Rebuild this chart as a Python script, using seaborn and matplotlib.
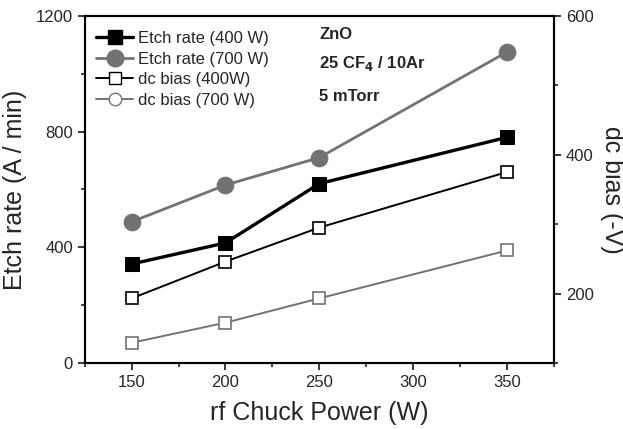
import seaborn as sns
import matplotlib.pyplot as plt
from matplotlib.lines import Line2D
from matplotlib.ticker import MultipleLocator

power = [150, 200, 250, 350]
etch_400 = [342, 415, 620, 780]
etch_700 = [488, 615, 710, 1075]
bias_400 = [193, 246, 295, 375]
bias_700 = [129, 158, 193, 262]

sns.set_style("ticks")
plt.rcParams['font.family'] = ['Liberation Sans', 'DejaVu Sans']

gray = '#727272'

fig = plt.figure(figsize=(6.23, 4.29), dpi=100)
ax = fig.add_axes([0.136, 0.154, 0.753, 0.809])
ax2 = ax.twinx()

sns.lineplot(x=power, y=etch_400, ax=ax, color='black', lw=2.4,
             marker='s', markersize=10, markeredgecolor='black')
sns.lineplot(x=power, y=etch_700, ax=ax, color=gray, lw=2.0,
             marker='o', markersize=12, markeredgecolor=gray)
sns.lineplot(x=power, y=bias_400, ax=ax2, color='black', lw=1.4,
             marker='s', markersize=8, markerfacecolor='white',
             markeredgecolor='black', markeredgewidth=1.2)
sns.lineplot(x=power, y=bias_700, ax=ax2, color=gray, lw=1.4,
             marker='s', markersize=8, markerfacecolor='white',
             markeredgecolor=gray, markeredgewidth=1.2)

ax.set_xlim(125, 375)
ax.set_ylim(0, 1200)
ax2.set_ylim(100, 600)
ax.xaxis.set_major_locator(MultipleLocator(50))
ax.xaxis.set_minor_locator(MultipleLocator(25))
ax.yaxis.set_major_locator(MultipleLocator(400))
ax.yaxis.set_minor_locator(MultipleLocator(200))
ax2.yaxis.set_major_locator(MultipleLocator(200))
ax2.yaxis.set_minor_locator(MultipleLocator(100))

for a in (ax, ax2):
    for s in a.spines.values():
        s.set_linewidth(1.5)
        s.set_color('black')
    a.tick_params(which='major', length=5, width=1.3, labelsize=12, direction='out')
    a.tick_params(which='minor', length=3, width=1.2, direction='out')
ax.tick_params(top=False, which='both')

ax.set_xlabel('rf Chuck Power (W)', fontsize=18, labelpad=8)
ax.set_ylabel('Etch rate (A / min)', fontsize=18, labelpad=6)
ax2.set_ylabel('dc bias (-V)', fontsize=18, rotation=270, labelpad=22)

handles = [
    Line2D([], [], color='black', lw=2.4, marker='s', markersize=10),
    Line2D([], [], color=gray, lw=2.0, marker='o', markersize=12),
    Line2D([], [], color='black', lw=1.4, marker='s', markersize=8,
           markerfacecolor='white', markeredgecolor='black'),
    Line2D([], [], color=gray, lw=1.4, marker='o', markersize=9,
           markerfacecolor='white', markeredgecolor=gray),
]
labels = ['Etch rate (400 W)', 'Etch rate (700 W)', 'dc bias (400W)', 'dc bias (700 W)']
ax.legend(handles, labels, loc='upper left', bbox_to_anchor=(0.0, 0.99),
          frameon=False, fontsize=12, handlelength=2.2, handletextpad=0.3,
          labelspacing=0.33, borderaxespad=0.3)

ax.text(0.50, 0.945, 'ZnO', transform=ax.transAxes, fontsize=12,
        fontweight='bold', va='center')
ax.text(0.50, 0.862, '25 CF$_\\mathbf{4}$ / 10Ar', transform=ax.transAxes,
        fontsize=12, fontweight='bold', va='center')
ax.text(0.50, 0.768, '5 mTorr', transform=ax.transAxes, fontsize=12,
        fontweight='bold', va='center')

plt.savefig('out.png', dpi=100)
